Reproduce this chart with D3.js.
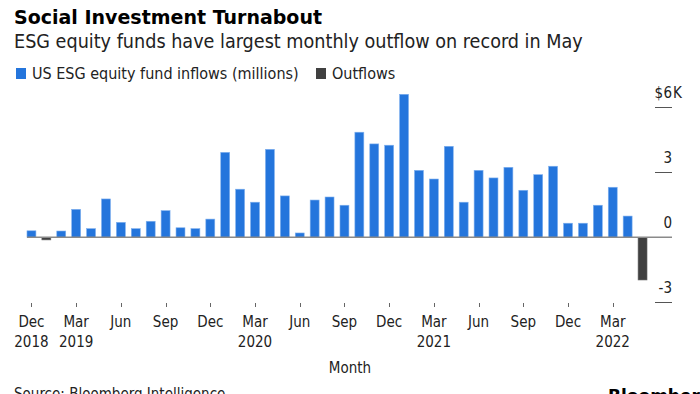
<!DOCTYPE html>
<html>
<head>
<meta charset="utf-8">
<script src="https://cdn.jsdelivr.net/npm/d3@7"></script>
<style>
  body { margin: 0; background: #fff; }
  svg { display: block; }
  text { font-family: "DejaVu Sans", sans-serif; font-stretch: condensed; fill: #222; }
  .title { font-weight: bold; font-stretch: normal; fill: #000; }
</style>
</head>
<body>
<div id="chart"></div>
<script>
// month categories, Dec 2018 .. May 2022
var months = [
  "2018-12",
  "2019-01", "2019-02", "2019-03", "2019-04", "2019-05", "2019-06",
  "2019-07", "2019-08", "2019-09", "2019-10", "2019-11", "2019-12",
  "2020-01", "2020-02", "2020-03", "2020-04", "2020-05", "2020-06",
  "2020-07", "2020-08", "2020-09", "2020-10", "2020-11", "2020-12",
  "2021-01", "2021-02", "2021-03", "2021-04", "2021-05", "2021-06",
  "2021-07", "2021-08", "2021-09", "2021-10", "2021-11", "2021-12",
  "2022-01", "2022-02", "2022-03", "2022-04", "2022-05"
];
// net flows, millions of dollars
var flows = [
  300,
  -120, 290, 1290, 400, 1770, 690,
  400, 740, 1230, 440, 400, 840,
  3920, 2220, 1620, 4060, 1910, 200,
  1720, 1860, 1480, 4850, 4310, 4250,
  6600, 3090, 2690, 4200, 1620, 3090,
  2740, 3230, 2170, 2890, 3280, 650,
  650, 1480, 2310, 980, -1970
];
var yTicks = [-3000, 0, 3000, 6000];
var monthNames = ["Jan", "Feb", "Mar", "Apr", "May", "Jun", "Jul", "Aug", "Sep", "Oct", "Nov", "Dec"];

var inflowColor = "#2475dc";
var outflowColor = "#404040";

var svgWidth = 700;
var svgHeight = 394;

var svg = d3.select("#chart")
  .append("svg")
  .attr("width", svgWidth)
  .attr("height", svgHeight);

// headline
svg.append("text")
  .attr("class", "title")
  .attr("x", 14)
  .attr("y", 24)
  .style("font-size", "19px")
  .text("Social Investment Turnabout");

svg.append("text")
  .attr("x", 14)
  .attr("y", 48)
  .style("font-size", "19.6px")
  .text("ESG equity funds have largest monthly outflow on record in May");

// legend
var legend = [
  { label: "US ESG equity fund inflows (millions)", color: inflowColor, x: 16 },
  { label: "Outflows", color: outflowColor, x: 316 }
];
var legendG = svg.append("g");
legendG.selectAll("rect")
  .data(legend)
  .enter()
  .append("rect")
  .attr("x", d => d.x)
  .attr("y", 68)
  .attr("width", 10)
  .attr("height", 11)
  .attr("fill", d => d.color);
legendG.selectAll("text")
  .data(legend)
  .enter()
  .append("text")
  .attr("x", d => d.x + 16)
  .attr("y", 79)
  .style("font-size", "16px")
  .text(d => d.label);

// scales
var x = d3.scaleBand()
  .domain(months)
  .range([24, 650])
  .paddingInner(0.4)
  .paddingOuter(0.2);

var y = d3.scaleLinear()
  .domain([-3000, 6000])
  .range([302.3, 107.3]);

// right-hand value axis: short dashes with labels sitting above them
var axisRight = 672;
var yAxis = svg.append("g");
yAxis.selectAll("line")
  .data(yTicks.filter(d => d !== 0))
  .enter()
  .append("line")
  .attr("x1", 655)
  .attr("x2", axisRight)
  .attr("y1", d => Math.round(y(d)) + 0.5)
  .attr("y2", d => Math.round(y(d)) + 0.5)
  .attr("stroke", "#555")
  .attr("stroke-width", 1);
yAxis.selectAll("text.num")
  .data(yTicks)
  .enter()
  .append("text")
  .attr("class", "num")
  .attr("x", axisRight)
  .attr("y", d => y(d) - 9)
  .attr("text-anchor", "end")
  .style("font-size", "15px")
  .text(d => d / 1000);
// "$" and "K" hang either side of the top number
var topTick = yTicks[yTicks.length - 1];
yAxis.append("text")
  .attr("x", axisRight - 9)
  .attr("y", y(topTick) - 9)
  .attr("text-anchor", "end")
  .style("font-size", "15px")
  .text("$");
yAxis.append("text")
  .attr("x", axisRight + 1)
  .attr("y", y(topTick) - 9)
  .style("font-size", "15px")
  .text("K");

// bars
svg.append("g")
  .selectAll("rect")
  .data(months)
  .enter()
  .append("rect")
  .attr("x", d => x(d))
  .attr("width", x.bandwidth())
  .attr("y", (d, i) => y(Math.max(0, flows[i])))
  .attr("height", (d, i) => Math.abs(y(flows[i]) - y(0)))
  .attr("fill", (d, i) => flows[i] < 0 ? outflowColor : inflowColor)
  .attr("stroke", (d, i) => flows[i] < 0 ? "#6a6a6a" : "#7fb0ee")
  .attr("stroke-width", 0.6);

// zero line
svg.append("line")
  .attr("x1", 27)
  .attr("x2", axisRight)
  .attr("y1", y(0))
  .attr("y2", y(0))
  .attr("stroke", "#8a8a8a")
  .attr("stroke-width", 1.5);

// month axis: a tick every third month
var tickMonths = months.filter((d, i) => i % 3 === 0);
var xAxis = svg.append("g");
xAxis.selectAll("line")
  .data(tickMonths)
  .enter()
  .append("line")
  .attr("x1", d => Math.round(x(d) + x.bandwidth() / 2) + 0.5)
  .attr("x2", d => Math.round(x(d) + x.bandwidth() / 2) + 0.5)
  .attr("y1", 303)
  .attr("y2", 307)
  .attr("stroke", "#666");

var labels = xAxis.selectAll("text")
  .data(tickMonths)
  .enter()
  .append("text")
  .attr("text-anchor", "middle")
  .style("font-size", "15px");
labels.append("tspan")
  .attr("x", d => x(d) + x.bandwidth() / 2)
  .attr("y", 327)
  .text(d => monthNames[+d.slice(5) - 1]);
labels.append("tspan")
  .attr("x", d => x(d) + x.bandwidth() / 2)
  .attr("y", 347)
  .text((d, i) => (i === 0 || d.slice(5) === "03") ? d.slice(0, 4) : "");

svg.append("text")
  .attr("x", 350)
  .attr("y", 373)
  .attr("text-anchor", "middle")
  .style("font-size", "15px")
  .text("Month");

// footer, clipped by the bottom edge as in the original
svg.append("text")
  .attr("x", 14)
  .attr("y", 399)
  .style("font-size", "15px")
  .text("Source: Bloomberg Intelligence");

svg.append("text")
  .attr("class", "title")
  .attr("x", 608)
  .attr("y", 402)
  .style("font-size", "17px")
  .text("Bloomberg");
</script>
</body>
</html>
